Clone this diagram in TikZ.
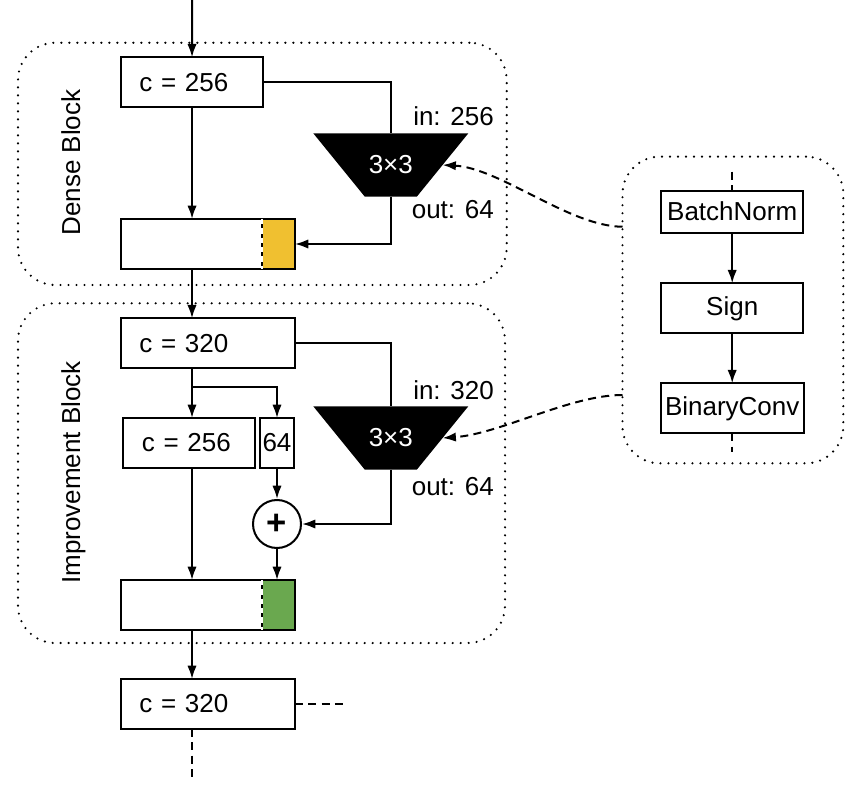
\documentclass[tikz,border=0pt]{standalone}
\usepackage{fontspec}
\setmainfont{Liberation Sans}
\usetikzlibrary{arrows.meta,calc}

\definecolor{newyellow}{RGB}{240,192,48}
\definecolor{newgreen}{RGB}{106,168,79}

\tikzset{
	chanbox/.style={draw, line width=1.5pt, outer sep=0pt, inner xsep=14pt, align=left, minimum height=37.5pt, anchor=west},
	newpart/.style={draw, line width=1.5pt, outer sep=0pt, minimum width=24.5pt, minimum height=37.5pt, anchor=east},
	opbox/.style={draw, line width=1.5pt, outer sep=0pt, minimum width=106.7pt, minimum height=37.5pt},
	blockframe/.style={draw, line width=1.8pt, line cap=round, dash pattern=on 0pt off 6pt, rounded corners=28pt},
	convshape/.style={minimum width=116.25pt, minimum height=47.5pt, inner sep=0pt, outer sep=0pt},
	flow/.style={line width=1.5pt, -{Latex[length=10pt,width=7pt]}},
	link/.style={line width=1.5pt},
	hint/.style={line width=1.5pt, dash pattern=on 6pt off 4pt},
	seam/.style={white, line width=1.5pt, dash pattern=on 4pt off 3pt},
}

\begin{document}
\begin{tikzpicture}[x=0.75pt,y=0.75pt,yscale=-1,xscale=1, every node/.append style={font=\fontsize{19.5}{23}\selectfont}]
	\useasboundingbox (0,0) rectangle (857,788);

	% frames
	\node[blockframe, minimum width=366.5pt, minimum height=181.7pt] (dense) at (262.35,163.85) {};
	\node[blockframe, minimum width=365.25pt, minimum height=254.8pt] (improve) at (261.5,473.15) {};
	\node[blockframe, minimum width=165.6pt, minimum height=230pt] (panel) at (732.9,310) {};
	\node[rotate=90, anchor=base] (densename) at (80,162.5) {Dense Block};
	\node[rotate=90, anchor=base] (improvename) at (80,472.5) {Improvement Block};

	\coordinate (input) at (192,0);
	\coordinate (trunk) at (192,0);

	% dense block
	\node[chanbox, text width=79pt] (c256a) at (120.7,82.3) {c = 256};
	\node[chanbox, minimum width=130.7pt] (cat1) at (120.7,244) {};
	\node[newpart, fill=newyellow] (new1) at (cat1.east) {};
	\draw[seam] (new1.north west) -- (new1.south west);

	\node[convshape] (conv1) at (390.8,165) {};
	\fill (conv1.north west) -- (conv1.north east) -- ($(conv1.south east)+(-51.5,0)$) -- ($(conv1.south west)+(51.5,0)$) -- cycle;
	\node[text=white] (conv1lbl) at (conv1) {3×3};
	\node[anchor=east, inner sep=0pt] (in1) at (494,116.7) {in: 256};
	\node[anchor=east, inner sep=0pt] (out1) at (494,210) {out: 64};

	\draw[flow] (input) -- (c256a.north);
	\draw[flow] (c256a.south) -- (c256a.south |- cat1.north);
	\draw[link] (c256a.east) -| (conv1.north);
	\draw[flow] (conv1.south) |- (new1.east);

	% improvement block
	\node[chanbox, text width=102.7pt] (c320a) at (120.7,343.3) {c = 320};
	\node[chanbox, text width=71pt] (c256b) at (123.3,443) {c = 256};
	\node[draw, line width=1.5pt, outer sep=0pt, inner xsep=0pt, minimum width=25pt, minimum height=37.5pt] (c64) at (277,443) {64};
	\node[draw, circle, line width=1.5pt, inner sep=0pt, minimum size=36pt] (plus) at (277,524) {\fontsize{26}{26}\selectfont\bfseries +};
	\node[chanbox, minimum width=130.7pt] (cat2) at (120.7,605) {};
	\node[newpart, fill=newgreen] (new2) at (cat2.east) {};
	\draw[seam] (new2.north west) -- (new2.south west);

	\node[convshape] (conv2) at (390.8,438) {};
	\fill (conv2.north west) -- (conv2.north east) -- ($(conv2.south east)+(-51.5,0)$) -- ($(conv2.south west)+(51.5,0)$) -- cycle;
	\node[text=white] (conv2lbl) at (conv2) {3×3};
	\node[anchor=east, inner sep=0pt] (in2) at (494,390) {in: 320};
	\node[anchor=east, inner sep=0pt] (out2) at (494,486.7) {out: 64};

	\coordinate (split) at (192,386.7);
	\draw[flow] (trunk |- cat1.south) -- (trunk |- c320a.north);
	\draw[flow] (trunk |- c320a.south) -- (trunk |- c256b.north);
	\draw[flow] (split) -| (c64.north);
	\draw[link] (c320a.east) -| (conv2.north);
	\draw[flow] (c64.south) -- (plus.north);
	\draw[flow] (conv2.south) |- (plus.east);
	\draw[flow] (plus.south) -- (plus |- new2.north);
	\draw[flow] (trunk |- c256b.south) -- (trunk |- cat2.north);

	% next
	\node[chanbox, text width=102.7pt] (c320b) at (120.7,704) {c = 320};
	\coordinate (skip) at ($(c320b.east)+(50,0)$);
	\coordinate (down) at ($(trunk |- c320b.south)+(0,48.7)$);
	\draw[flow] (trunk |- cat2.south) -- (trunk |- c320b.north);
	\draw[hint] (c320b.east) -- (skip);
	\draw[hint] (trunk |- c320b.south) -- (down);

	% binary conv unit
	\node[opbox, minimum height=31.5pt] (bn) at (732.2,211.7) {BatchNorm};
	\node[opbox] (sign) at (732.2,308.3) {Sign};
	\node[opbox] (bconv) at (732.2,408.3) {BinaryConv};
	\coordinate (bntop) at (732.2,171.7);
	\coordinate (bconvbot) at (732.2,451.7);
	\draw[hint] (bntop) -- (bn.north);
	\draw[hint] (bconv.south) -- (bconvbot);
	\draw[flow] (bn) -- (sign);
	\draw[flow] (sign) -- (bconv);

	\coordinate (tap1) at (622.5,226.7);
	\coordinate (tap2) at (622.5,395);
	\draw[hint, -{Latex[length=10pt,width=7pt]}] (tap1) .. controls (570,226.7) and (500,168) .. ($(conv1.east)+(-25.75,0)$);
	\draw[hint, -{Latex[length=10pt,width=7pt]}] (tap2) .. controls (570,395) and (500,434) .. ($(conv2.east)+(-25.75,0)$);
\end{tikzpicture}
\end{document}
